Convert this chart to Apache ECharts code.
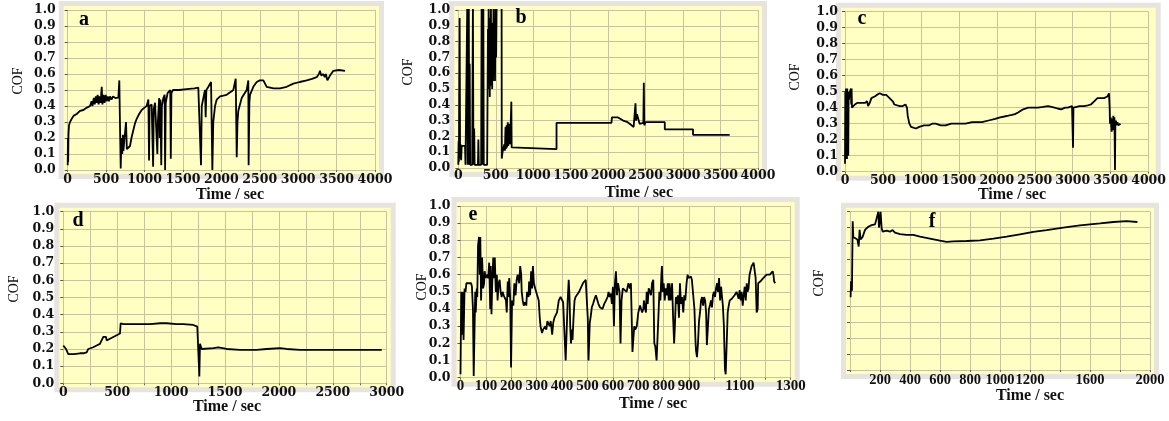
<!DOCTYPE html>
<html><head><meta charset="utf-8">
<script src="https://cdn.jsdelivr.net/npm/echarts@6/dist/echarts.min.js"></script>
<style>html,body{margin:0;padding:0;background:#fff}#c{width:1169px;height:421px}</style>
</head><body><div id="c"></div>
<script>
// ---- data: [time (s), COF] ----
const seriesA = [[0,0.03],[3,0.2],[6,0.05],[10,0.22],[17,0.28],[30,0.3],[52,0.32],[80,0.34],[117,0.35],[160,0.37],[204,0.375],[250,0.39],[291,0.40],[310,0.43],[322,0.40],[340,0.45],[352,0.41],[366,0.46],[377,0.42],[390,0.47],[402,0.41],[415,0.46],[428,0.42],[443,0.52],[452,0.41],[466,0.47],[480,0.42],[494,0.47],[508,0.43],[522,0.46],[537,0.43],[551,0.46],[570,0.44],[590,0.46],[620,0.45],[659,0.452],[672,0.56],[680,0.3],[690,0.01],[700,0.2],[710,0.1],[718,0.22],[725,0.12],[740,0.2],[759,0.3],[770,0.13],[790,0.12],[811,0.15],[830,0.2],[855,0.25],[875,0.29],[898,0.32],[930,0.35],[963,0.375],[1000,0.39],[1028,0.40],[1050,0.44],[1059,0.06],[1066,0.4],[1093,0.41],[1112,0.02],[1120,0.38],[1137,0.42],[1158,0.43],[1167,0.1],[1174,0.3],[1190,0.45],[1198,0.2],[1206,0.44],[1213,0.2],[1218,0.03],[1226,0.4],[1245,0.45],[1262,0.47],[1268,0.0],[1276,0.42],[1300,0.48],[1335,0.5],[1342,0.07],[1350,0.48],[1370,0.5],[1450,0.5],[1550,0.505],[1650,0.51],[1700,0.515],[1722,0.52],[1735,0.03],[1745,0.4],[1766,0.45],[1787,0.5],[1796,0.33],[1805,0.5],[1831,0.52],[1866,0.55],[1883,0.0],[1895,0.3],[1918,0.4],[1939,0.44],[1983,0.46],[2069,0.47],[2156,0.5],[2187,0.57],[2200,0.08],[2210,0.3],[2221,0.37],[2265,0.45],[2330,0.5],[2351,0.56],[2355,0.03],[2365,0.42],[2373,0.47],[2416,0.52],[2460,0.55],[2500,0.56],[2547,0.56],[2590,0.52],[2680,0.51],[2764,0.51],[2850,0.52],[2937,0.54],[3020,0.55],[3111,0.56],[3180,0.57],[3241,0.58],[3270,0.6],[3284,0.62],[3300,0.59],[3328,0.6],[3345,0.58],[3360,0.6],[3380,0.56],[3393,0.55],[3414,0.59],[3440,0.6],[3458,0.62],[3530,0.625],[3610,0.62]];

const seriesB = [[0,0.02],[4,0.17],[8,0.04],[18,0.95],[24,0.06],[30,0.15],[38,0.05],[45,0.14],[90,0.14],[96,0.02],[112,0.02],[120,1.05],[126,0.02],[134,0.02],[140,1.05],[146,0.02],[152,0.66],[158,0.02],[185,0.02],[195,1.05],[202,0.02],[212,0.25],[218,0.02],[262,0.02],[268,0.18],[274,0.02],[305,0.02],[311,1.05],[317,0.02],[328,0.02],[334,1.05],[340,0.02],[385,0.02],[390,0.43],[396,0.88],[400,0.5],[405,1.05],[410,0.6],[415,0.95],[420,0.45],[425,0.85],[430,0.52],[435,1.05],[440,0.62],[447,0.92],[452,0.5],[458,0.8],[464,0.55],[470,1.05],[476,0.6],[482,0.9],[490,0.55],[497,1.05],[505,0.7],[512,1.05],[578,1.05],[580,0.06],[590,0.1],[605,0.1],[615,0.15],[622,0.11],[630,0.26],[636,0.12],[644,0.27],[650,0.13],[660,0.29],[667,0.14],[680,0.28],[689,0.15],[700,0.29],[708,0.42],[712,0.13],[716,0.12],[733,0.12],[1311,0.12],[1311,0.285],[2044,0.285],[2050,0.32],[2133,0.32],[2150,0.31],[2200,0.3],[2260,0.29],[2300,0.275],[2340,0.26],[2356,0.27],[2365,0.41],[2372,0.3],[2385,0.34],[2400,0.33],[2420,0.28],[2440,0.29],[2470,0.285],[2476,0.54],[2482,0.27],[2500,0.29],[2600,0.29],[2700,0.29],[2756,0.29],[2756,0.245],[3133,0.245],[3133,0.21],[3622,0.21]];

const seriesC = [[0,0.05],[4,0.5],[9,0.08],[13,0.52],[17,0.1],[22,0.5],[26,0.08],[30,0.52],[35,0.12],[39,0.5],[43,0.1],[48,0.5],[52,0.45],[65,0.5],[78,0.52],[82,0.42],[87,0.52],[92,0.4],[100,0.39],[115,0.41],[130,0.42],[160,0.43],[196,0.43],[230,0.43],[261,0.43],[291,0.44],[304,0.41],[326,0.43],[348,0.46],[370,0.47],[391,0.47],[420,0.48],[440,0.49],[457,0.49],[480,0.48],[500,0.48],[543,0.48],[565,0.47],[587,0.46],[610,0.45],[630,0.44],[650,0.42],[674,0.41],[720,0.41],[761,0.41],[796,0.42],[817,0.40],[826,0.35],[835,0.33],[848,0.30],[870,0.28],[891,0.28],[935,0.27],[978,0.28],[1040,0.29],[1109,0.29],[1150,0.30],[1196,0.30],[1260,0.29],[1326,0.29],[1400,0.30],[1500,0.30],[1587,0.30],[1674,0.31],[1740,0.31],[1804,0.31],[1891,0.32],[1978,0.33],[2043,0.34],[2100,0.345],[2152,0.35],[2200,0.355],[2239,0.36],[2280,0.37],[2304,0.37],[2348,0.39],[2413,0.40],[2480,0.40],[2543,0.40],[2610,0.405],[2674,0.41],[2720,0.405],[2761,0.40],[2800,0.395],[2848,0.39],[2900,0.40],[2935,0.40],[2991,0.41],[3000,0.41],[3004,0.15],[3010,0.40],[3022,0.41],[3090,0.41],[3152,0.41],[3200,0.415],[3239,0.42],[3283,0.44],[3326,0.46],[3370,0.46],[3413,0.46],[3457,0.47],[3478,0.49],[3487,0.40],[3491,0.30],[3500,0.34],[3513,0.25],[3522,0.33],[3530,0.26],[3535,0.35],[3543,0.28],[3550,0.34],[3557,0.01],[3562,0.3],[3570,0.32],[3578,0.29],[3590,0.31],[3600,0.29],[3630,0.30]];

const seriesD = [[0,0.22],[8,0.23],[15,0.23],[25,0.2],[46,0.17],[100,0.17],[155,0.175],[186,0.175],[217,0.18],[232,0.2],[278,0.21],[309,0.22],[340,0.23],[356,0.24],[371,0.27],[396,0.27],[402,0.25],[433,0.26],[464,0.27],[495,0.28],[510,0.29],[526,0.29],[532,0.35],[557,0.345],[700,0.345],[804,0.345],[900,0.35],[959,0.35],[1050,0.345],[1114,0.345],[1206,0.34],[1243,0.33],[1253,0.32],[1262,0.04],[1268,0.23],[1284,0.2],[1392,0.205],[1438,0.21],[1516,0.2],[1639,0.195],[1794,0.195],[1887,0.2],[2011,0.205],[2072,0.2],[2196,0.195],[2505,0.195],[2954,0.195]];

const seriesE = [[0,0.02],[3,0.5],[5,0.25],[9,0.5],[12,0.22],[16,0.52],[20,0.5],[23,0.55],[42,0.55],[45,0.53],[49,0.4],[52,0.01],[56,0.01],[58,0.5],[60,0.38],[64,0.52],[66,0.47],[69,0.77],[73,0.82],[76,0.6],[78,0.82],[81,0.45],[85,0.7],[89,0.52],[93,0.55],[95,0.62],[99,0.58],[103,0.6],[109,0.58],[113,0.67],[117,0.4],[119,0.65],[122,0.37],[125,0.55],[129,0.7],[133,0.58],[135,0.7],[139,0.5],[143,0.6],[146,0.45],[150,0.55],[154,0.57],[158,0.5],[162,0.47],[166,0.5],[170,0.48],[175,0.48],[179,0.45],[182,0.38],[186,0.56],[188,0.47],[192,0.58],[196,0.45],[199,0.06],[203,0.45],[208,0.42],[212,0.55],[217,0.48],[221,0.57],[225,0.6],[231,0.55],[235,0.65],[239,0.6],[241,0.5],[245,0.45],[249,0.42],[255,0.44],[259,0.42],[262,0.5],[268,0.47],[270,0.56],[274,0.48],[278,0.62],[282,0.52],[285,0.65],[289,0.55],[294,0.52],[301,0.51],[308,0.45],[312,0.35],[315,0.3],[321,0.26],[325,0.28],[329,0.27],[334,0.3],[338,0.28],[342,0.33],[347,0.33],[351,0.3],[355,0.33],[361,0.25],[365,0.32],[370,0.35],[374,0.36],[380,0.38],[387,0.45],[394,0.47],[400,0.46],[404,0.44],[410,0.45],[414,0.1],[418,0.11],[422,0.45],[426,0.57],[429,0.48],[432,0.3],[435,0.2],[439,0.28],[441,0.22],[445,0.35],[449,0.45],[453,0.47],[460,0.46],[467,0.5],[473,0.52],[477,0.53],[482,0.55],[488,0.56],[493,0.57],[497,0.56],[501,0.35],[504,0.1],[509,0.32],[513,0.36],[517,0.41],[522,0.43],[528,0.46],[533,0.48],[539,0.47],[543,0.43],[549,0.41],[555,0.42],[559,0.4],[566,0.43],[573,0.45],[579,0.47],[583,0.5],[587,0.47],[592,0.49],[596,0.43],[600,0.53],[604,0.3],[608,0.55],[612,0.62],[616,0.48],[620,0.55],[626,0.5],[630,0.2],[634,0.45],[639,0.52],[646,0.53],[654,0.5],[661,0.55],[667,0.52],[671,0.55],[677,0.15],[680,0.14],[684,0.3],[688,0.28],[694,0.3],[700,0.38],[707,0.42],[711,0.43],[715,0.38],[720,0.4],[722,0.45],[726,0.41],[730,0.38],[733,0.5],[737,0.43],[741,0.52],[746,0.5],[750,0.48],[754,0.55],[759,0.57],[763,0.2],[767,0.18],[772,0.1],[776,0.1],[779,0.35],[783,0.5],[787,0.45],[791,0.6],[793,0.65],[796,0.5],[800,0.55],[804,0.45],[808,0.52],[812,0.48],[816,0.55],[820,0.45],[823,0.55],[827,0.45],[833,0.55],[837,0.35],[841,0.2],[844,0.3],[848,0.47],[852,0.43],[856,0.48],[860,0.35],[864,0.55],[868,0.43],[872,0.47],[877,0.38],[881,0.48],[885,0.45],[890,0.55],[894,0.6],[898,0.58],[904,0.57],[907,0.59],[911,0.57],[917,0.58],[921,0.4],[925,0.22],[927,0.16],[931,0.12],[935,0.2],[939,0.33],[943,0.38],[947,0.45],[951,0.47],[955,0.42],[959,0.47],[963,0.45],[967,0.38],[970,0.19],[974,0.19],[978,0.4],[982,0.42],[986,0.45],[990,0.41],[994,0.48],[998,0.5],[1002,0.47],[1006,0.52],[1010,0.55],[1014,0.5],[1018,0.58],[1022,0.45],[1026,0.53],[1029,0.48],[1033,0.42],[1037,0.3],[1041,0.05],[1044,0.02],[1048,0.2],[1052,0.38],[1056,0.42],[1060,0.45],[1064,0.44],[1068,0.46],[1071,0.46],[1075,0.47],[1079,0.48],[1083,0.47],[1087,0.5],[1091,0.49],[1095,0.46],[1099,0.51],[1103,0.45],[1107,0.5],[1111,0.42],[1115,0.48],[1119,0.53],[1123,0.45],[1127,0.55],[1130,0.5],[1134,0.52],[1138,0.6],[1142,0.6],[1146,0.65],[1150,0.66],[1154,0.67],[1158,0.66],[1162,0.58],[1166,0.38],[1170,0.4],[1172,0.55],[1176,0.55],[1180,0.56],[1186,0.57],[1192,0.58],[1199,0.59],[1205,0.6],[1212,0.6],[1218,0.6],[1225,0.61],[1229,0.62],[1232,0.6],[1235,0.56],[1239,0.55]];

const seriesF = [[4,0.46],[7,0.56],[10,0.56],[13,0.5],[18,0.94],[22,0.84],[33,0.83],[49,0.825],[58,0.78],[64,0.885],[71,0.825],[84,0.84],[100,0.885],[122,0.905],[144,0.915],[167,0.92],[178,0.93],[189,1.0],[193,0.9],[196,0.91],[200,0.95],[204,1.0],[211,0.895],[218,0.874],[244,0.88],[267,0.874],[284,0.884],[300,0.868],[333,0.859],[378,0.853],[422,0.853],[467,0.842],[533,0.83],[600,0.817],[644,0.81],[689,0.8126],[778,0.815],[867,0.819],[956,0.83],[1044,0.842],[1133,0.857],[1222,0.872],[1311,0.884],[1422,0.9],[1533,0.914],[1667,0.926],[1756,0.935],[1844,0.94],[1916,0.935]];

// ---- tick labels / texts ----
const xLabelsABC = [0,500,1000,1500,2000,2500,3000,3500,4000];
const xLabelsD = [0,500,1000,1500,2000,2500,3000];
const xLabelsE = [0,100,200,300,400,500,600,700,800,900,1100,1300];
const xLabelsF = [200,400,600,800,1000,1200,1600,2000];
const panelLetters = ['a','b','c','d','e','f'];
const yTitle = 'COF';
const xTitle = 'Time / sec';

// ---- layout (pixel placement & styling only) ----
const layout = [
  {l:67.7, t:10,   w:307.3, h:160,   xmax:4000, xi:500, xl:xLabelsABC, ylab:true,  ym:8, xo:2, xm:1, xf:'DejaVu Serif', xs:12.5, letter:[84,20],  cof:[18,81],  time:[230,195], data:seriesA},
  {l:458.3,t:10,   w:299.7, h:158,   xmax:4000, xi:500, xl:xLabelsABC, ylab:true,  ym:4, xo:1, xm:0, xf:'DejaVu Serif', xs:12.5, letter:[521,18], cof:[408,72], time:[639,193], data:seriesB},
  {l:845,  t:11.7, w:306.7, h:160,   xmax:4000, xi:500, xl:xLabelsABC, ylab:true,  ym:3, xo:2, xm:1, xf:'DejaVu Serif', xs:12.5, letter:[862,19], cof:[795,77], time:[1012,195],data:seriesC},
  {l:63.3, t:211.7,w:323.4, h:171.6, xmax:3000, xi:250, xl:xLabelsD,   ylab:true,  ym:5, xo:2, xm:1, xf:'DejaVu Serif', xs:12.5, letter:[78,221], cof:[14,289], time:[227,407], data:seriesD},
  {l:460.5,t:206,  w:330.2, h:171.7, xmax:1300, xi:100, xl:xLabelsE,   ylab:true,  ym:6, xo:1, xm:0, xf:'Liberation Serif', xs:15, letter:[473,215],cof:[422,287], time:[653,404], data:seriesE},
  {l:850,  t:211.7,w:300,   h:158.3, xmax:2000, xi:200, xl:xLabelsF,   ylab:false, ym:6, xo:2, xm:1, xf:'Liberation Serif', xs:14.5, letter:[932,222],cof:[819,283], time:[1030,396],data:seriesF}
];

const YELLOW = '#FFFFC4', FRAME = '#E7E3DF', GRIDC = '#C9C39E';
const tickFont = {fontFamily:'DejaVu Serif', fontWeight:'bold', fontSize:12.5, color:'#111'};

const grids = [], xAxes = [], yAxes = [], series = [], graphics = [];
layout.forEach((p, i) => {
  grids.push({left:p.l, top:p.t, width:p.w, height:p.h, containLabel:false});
  xAxes.push({
    gridIndex:i, type:'value', min:0, max:p.xmax, interval:p.xi, offset:p.xo,
    axisLine:{show:false},
    axisTick:{show:true, length:2, lineStyle:{color:'#666'}},
    axisLabel:{margin:p.xm, showMinLabel:true, showMaxLabel:true,
      fontFamily:p.xf, fontWeight:'bold', fontSize:p.xs, color:'#111',
      formatter:v => p.xl.indexOf(Math.round(v)) >= 0 ? String(Math.round(v)) : ''},
    splitLine:{show:true, lineStyle:{color:GRIDC, width:1}}
  });
  yAxes.push({
    gridIndex:i, type:'value', min:0, max:1, interval:0.1, offset:4,
    axisLine:{show:false},
    axisTick:{show:true, length:3, lineStyle:{color:'#555'}},
    axisLabel:Object.assign({show:p.ylab, margin:p.ym, formatter:v => v.toFixed(1)}, tickFont),
    splitLine:{show:true, lineStyle:{color:GRIDC, width:1}}
  });
  series.push({
    type:'line', xAxisIndex:i, yAxisIndex:i, data:p.data, showSymbol:false, symbol:'none',
    clip:true, silent:true, animation:false,
    lineStyle:{color:'#000', width:1.8}
  });
  graphics.push({type:'rect', z:-20, silent:true, shape:{x:p.l-9, y:p.t-9, width:p.w+18, height:p.h+18}, style:{fill:FRAME}});
  graphics.push({type:'rect', z:-19, silent:true, shape:{x:p.l-4, y:p.t-4, width:p.w+8, height:p.h+8}, style:{fill:YELLOW}});
  graphics.push({type:'text', z:50, silent:true, x:p.letter[0], y:p.letter[1],
    style:{text:panelLetters[i], font:'bold 20px "Liberation Serif"', fill:'#000', align:'center', verticalAlign:'middle'}});
  graphics.push({type:'text', z:50, silent:true, x:p.cof[0], y:p.cof[1], rotation:Math.PI/2,
    style:{text:yTitle, font:'14px "Liberation Serif"', fill:'#111', align:'center', verticalAlign:'middle'}});
  graphics.push({type:'text', z:50, silent:true, x:p.time[0], y:p.time[1],
    style:{text:xTitle, font:'bold 16px "Liberation Serif"', fill:'#111', align:'center', verticalAlign:'middle'}});
});

const chart = echarts.init(document.getElementById('c'), null, {renderer:'canvas'});
chart.setOption({
  animation:false,
  backgroundColor:'#ffffff',
  grid:grids, xAxis:xAxes, yAxis:yAxes, series:series,
  graphic:{elements:graphics}
});
</script></body></html>
